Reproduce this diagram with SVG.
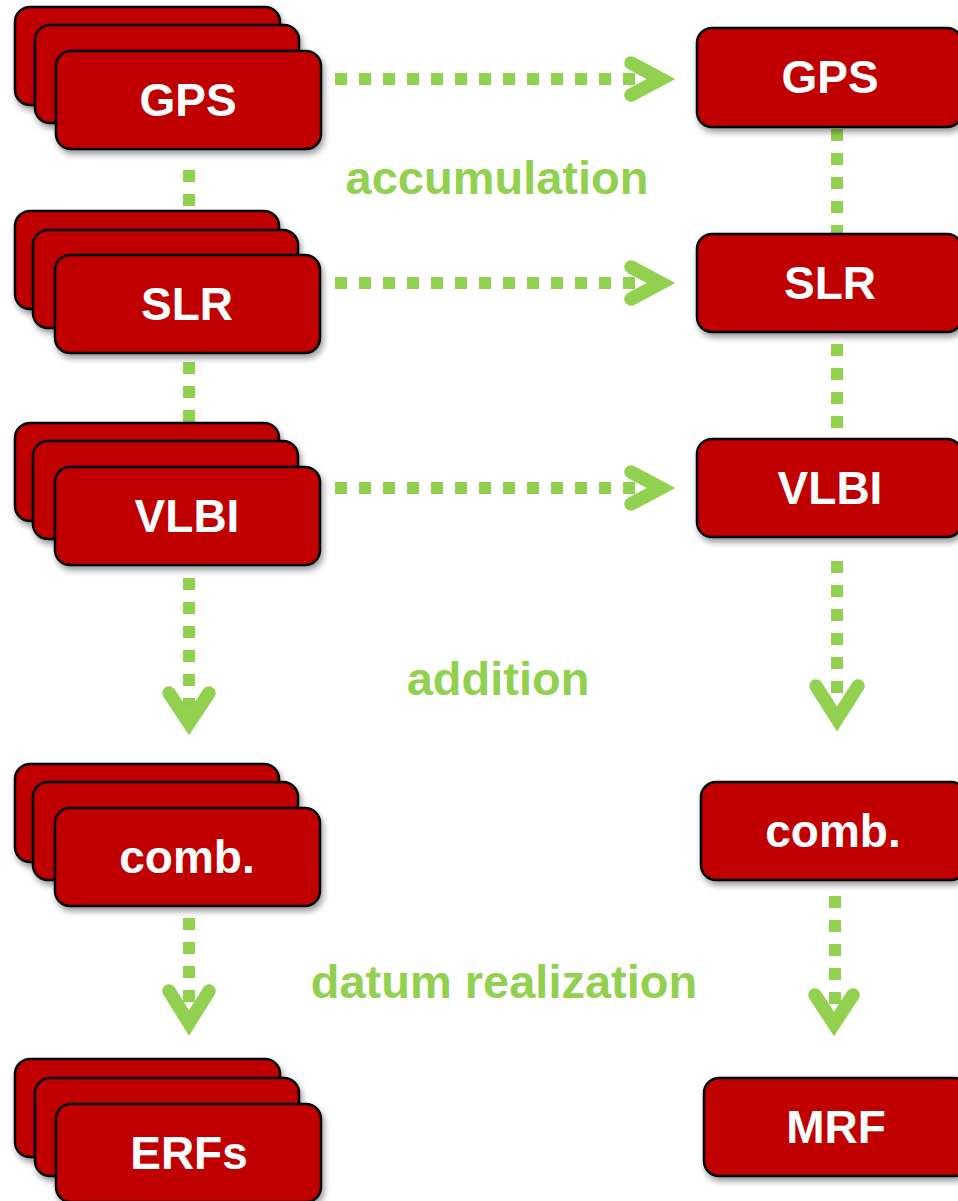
<svg xmlns="http://www.w3.org/2000/svg" width="958" height="1201" viewBox="0 0 958 1201">
<defs>
<filter id="sh" x="-10%" y="-10%" width="130%" height="140%">
<feDropShadow dx="2" dy="4" stdDeviation="3" flood-color="#000" flood-opacity="0.4"/>
</filter>
<style>
.box{fill:#C00000;stroke:#000;stroke-width:2.5;filter:url(#sh)}
.lbl{font-family:"Liberation Sans",Arial,sans-serif;font-weight:bold;font-size:46px;fill:#fff;text-anchor:middle}
.cap{font-family:"Liberation Sans",Arial,sans-serif;font-weight:bold;font-size:47px;fill:#92D050;text-anchor:middle}
.dot{stroke:#92D050;stroke-width:12;stroke-dasharray:12 12;fill:none}
.head{stroke:#92D050;stroke-width:13.5;stroke-linecap:round;stroke-linejoin:miter;stroke-miterlimit:10;fill:none}
</style>
</defs>
<rect width="958" height="1201" fill="#fff"/>
<g id="connectors">
<line class="dot" x1="189" y1="170" x2="189" y2="212"/>
<line class="dot" x1="189" y1="362" x2="189" y2="424"/>
<line class="dot" x1="189" y1="578" x2="189" y2="710"/>
<path class="head" d="M169,693 L189,723 L209,693"/>
<line class="dot" x1="189" y1="918" x2="189" y2="1002"/>
<path class="head" d="M169,991 L189,1023 L209,991"/>
<line class="dot" x1="837" y1="129" x2="837" y2="234"/>
<line class="dot" x1="837" y1="344" x2="837" y2="439"/>
<line class="dot" x1="837" y1="561" x2="837" y2="704"/>
<path class="head" d="M816,686 L837,719 L858,686"/>
<line class="dot" x1="835" y1="896" x2="835" y2="1005"/>
<path class="head" d="M815,995 L834,1024 L853,995"/>
<line class="dot" x1="335" y1="79" x2="647" y2="79"/>
<path class="head" d="M631,63 L661,79 L631,95"/>
<line class="dot" x1="335" y1="283" x2="647" y2="283"/>
<path class="head" d="M631,267 L661,283 L631,299"/>
<line class="dot" x1="335" y1="488" x2="647" y2="488"/>
<path class="head" d="M631,472 L661,488 L631,504"/>
</g>
<g id="labels">
<text class="cap" x="497" y="194">accumulation</text>
<text class="cap" x="498" y="695">addition</text>
<text class="cap" x="504" y="998">datum realization</text>
</g>
<g id="gps-stack">
<rect class="box" x="15" y="7" width="265" height="98" rx="15"/>
<rect class="box" x="35" y="25" width="264" height="98" rx="15"/>
<rect class="box" x="56" y="51" width="265" height="98" rx="15"/>
<text class="lbl" x="188" y="116">GPS</text>
</g>
<g id="slr-stack">
<rect class="box" x="15" y="211" width="264" height="98" rx="15"/>
<rect class="box" x="33" y="230" width="265" height="98" rx="15"/>
<rect class="box" x="55" y="255" width="265" height="98" rx="15"/>
<text class="lbl" x="187" y="320">SLR</text>
</g>
<g id="vlbi-stack">
<rect class="box" x="15" y="423" width="264" height="98" rx="15"/>
<rect class="box" x="33" y="441" width="265" height="98" rx="15"/>
<rect class="box" x="55" y="467" width="265" height="98" rx="15"/>
<text class="lbl" x="187" y="532">VLBI</text>
</g>
<g id="comb-stack">
<rect class="box" x="15" y="764" width="264" height="98" rx="15"/>
<rect class="box" x="33" y="782" width="265" height="98" rx="15"/>
<rect class="box" x="55" y="808" width="265" height="98" rx="15"/>
<text class="lbl" x="187" y="873">comb.</text>
</g>
<g id="erfs-stack">
<rect class="box" x="15" y="1059" width="265" height="98" rx="15"/>
<rect class="box" x="35" y="1078" width="264" height="98" rx="15"/>
<rect class="box" x="56" y="1104" width="265" height="98" rx="15"/>
<text class="lbl" x="189" y="1169">ERFs</text>
</g>
<g id="gps-right">
<rect class="box" x="697" y="28" width="265" height="99" rx="15"/>
<text class="lbl" x="830" y="93">GPS</text>
</g>
<g id="slr-right">
<rect class="box" x="697" y="234" width="265" height="98" rx="15"/>
<text class="lbl" x="830" y="299">SLR</text>
</g>
<g id="vlbi-right">
<rect class="box" x="697" y="439" width="265" height="98" rx="15"/>
<text class="lbl" x="830" y="504">VLBI</text>
</g>
<g id="comb-right">
<rect class="box" x="701" y="782" width="265" height="98" rx="15"/>
<text class="lbl" x="833" y="847">comb.</text>
</g>
<g id="mrf-right">
<rect class="box" x="704" y="1078" width="265" height="98" rx="15"/>
<text class="lbl" x="836" y="1143">MRF</text>
</g>
</svg>
